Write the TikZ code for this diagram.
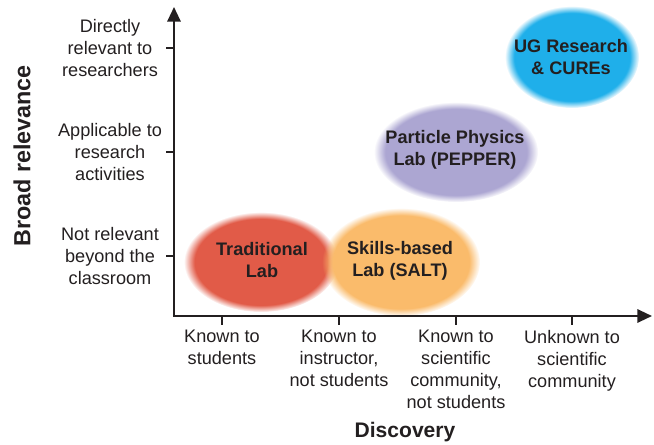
\documentclass[tikz,border=0pt]{standalone}
\usepackage{fontspec}
\setmainfont{Liberation Sans}
\usetikzlibrary{arrows.meta,fadings}

\definecolor{labtext}{HTML}{231F20}
\definecolor{tradred}{HTML}{E15B48}
\definecolor{saltorange}{HTML}{FABB6B}
\definecolor{pepperpurple}{HTML}{ACA6D2}
\definecolor{curesblue}{HTML}{1FAFEA}

% soft edge for the blobs
\pgfdeclareradialshading{softmask}{\pgfpointorigin}{color(0bp)=(white); color(21.5bp)=(white); color(25bp)=(black); color(50bp)=(black)}
\pgfdeclarefading{softedge}{\pgfuseshading{softmask}}

\tikzset{
  axisline/.style={line width=1.6pt, labtext, -{Triangle[length=11pt,width=10pt]}},
  axistick/.style={line width=1.6pt, labtext},
  ticklabel/.style={text=labtext, align=center, inner sep=0pt, font=\fontsize{13.6}{16.5}\selectfont},
  axistitle/.style={text=labtext, font=\bfseries},
  blob/.style={path fading=softedge},
  blobtext/.style={text=labtext, align=center, inner sep=0pt, font=\fontsize{13.6}{16.5}\selectfont\bfseries},
}

\begin{document}
\begin{tikzpicture}[x=0.75pt,y=-0.75pt]
\useasboundingbox (0,0) rectangle (654,445);

% blobs
\fill[tradred,blob] (261,262) ellipse (77 and 50);
\fill[saltorange,blob] (401,262) ellipse (79 and 54);
\fill[pepperpurple,blob] (456,152) ellipse (82 and 50);
\fill[curesblue,blob] (572,57) ellipse (67 and 51);

\node[blobtext] (trad) at (262,260) {Traditional\\Lab};
\node[blobtext] (salt) at (400,261) {Skills-based\\Lab (SALT)};
\node[blobtext] (pepper) at (455,150) {Particle Physics\\Lab (PEPPER)};
\node[blobtext] (cures) at (571,57) {UG Research\\\& CUREs};

% axes
\coordinate (origin) at (174,316);
\coordinate (ytop) at (174,7);
\coordinate (xend) at (652,316);
\draw[axisline] ([yshift=0.8pt]origin) -- (ytop);
\draw[axisline] ([xshift=-0.8pt]origin) -- (xend);

% y ticks
\foreach \y/\name/\txt in {48/ylow/{Directly\\relevant to\\researchers},
                          152/ymid/{Applicable to\\research\\activities},
                          256/yhigh/{Not relevant\\beyond the\\classroom}}{
  \coordinate (\name) at (174,\y);
  \draw[axistick] (\name) -- ++(-8,0);
  \node[ticklabel] (\name lab) at (110,\y) {\txt};
}

% x ticks
\foreach \x/\name/\txt in {222/xa/{Known to\\students},
                          339/xb/{Known to\\instructor,\\not students},
                          456/xc/{Known to\\scientific\\community,\\not students},
                          572/xd/{Unknown to\\scientific\\community}}{
  \coordinate (\name) at (\x,316);
  \draw[axistick] (\name) -- ++(0,9);
  \node[ticklabel,anchor=north] (\name lab) at (\x,330) {\txt};
}

\node[axistitle,font=\fontsize{15.8}{18}\selectfont\bfseries] (disc) at (405,432) {Discovery};
\node[axistitle,font=\fontsize{17.5}{20}\selectfont\bfseries,rotate=90] (broad) at (22,156) {Broad relevance};
\end{tikzpicture}
\end{document}
